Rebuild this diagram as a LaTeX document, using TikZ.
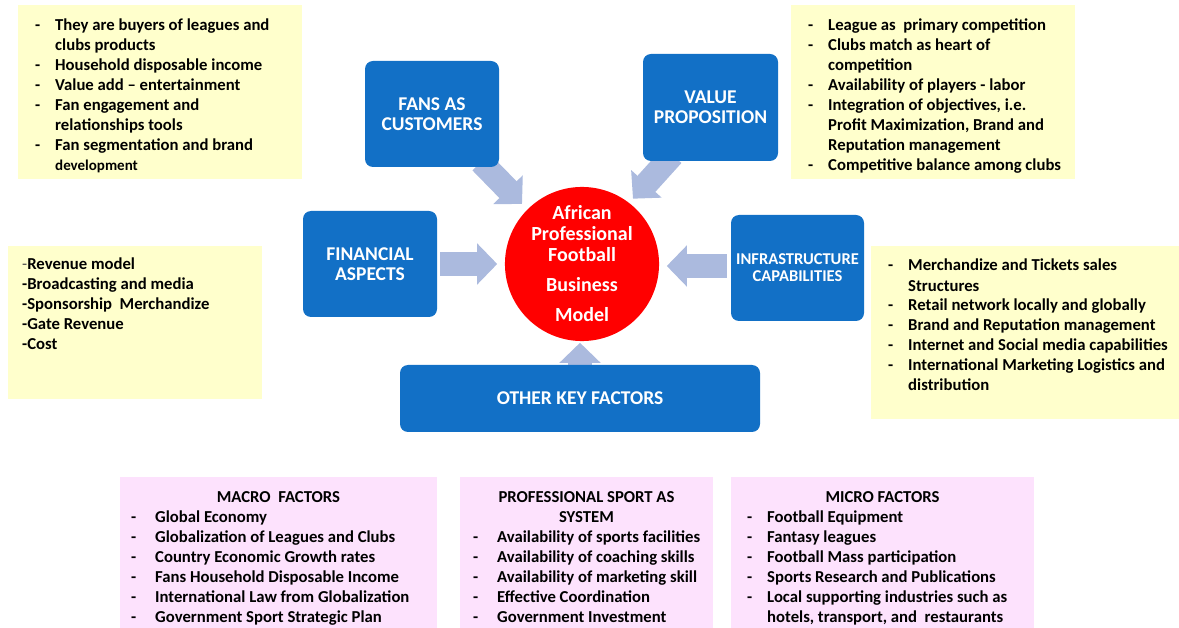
\documentclass[tikz,border=0pt]{standalone}
\usepackage{fontspec}
\setmainfont{Carlito}
\usepackage{xcolor}
\usepackage{tikz}
\usetikzlibrary{arrows.meta,backgrounds}
\definecolor{boxblue}{RGB}{18,112,198}
\definecolor{hubred}{RGB}{255,0,0}
\definecolor{flowblue}{RGB}{171,186,222}
\definecolor{notebg}{RGB}{255,255,204}
\definecolor{factorbg}{RGB}{253,226,253}
\newlength{\dashgap}
\setlength{\dashgap}{20pt}
\newcommand{\dashitem}[1]{\makebox[\dashgap][l]{-}#1}
\newcommand{\dashcont}[1]{\hspace*{\dashgap}#1}
\tikzset{
	note/.style={anchor=north west,inner sep=0pt,fill=notebg},
	factor/.style={anchor=north west,inner sep=0pt,fill=factorbg},
	list/.style={anchor=base west,inner sep=0pt,align=left,font=\fontsize{16.7}{20}\selectfont\bfseries},
	widelist/.style={list,font=\fontsize{16.7}{20}\selectfont\bfseries\setlength{\dashgap}{24pt}},
	topic/.style={rounded corners=8pt,fill=boxblue,text=white,align=center,inner sep=0pt,font=\fontsize{19.5}{20}\selectfont\bfseries},
	flow/.style={draw=flowblue,line width=24pt,-{Triangle[length=20pt,width=40pt]}}
}

\begin{document}
\begin{tikzpicture}[x=1pt,y=-1pt]
		\useasboundingbox (0,0) rectangle (1179,628);
		%
		\node[note,minimum width=284pt,minimum height=174pt] (fansnote) at (18,5) {};
		\node[note,minimum width=284pt,minimum height=174pt] (valuenote) at (791,5) {};
		\node[note,minimum width=254pt,minimum height=153pt] (finnote) at (8,246) {};
		\node[note,minimum width=308pt,minimum height=173pt] (infranote) at (871,246) {};
		\node[factor,minimum width=317pt,minimum height=151pt] (macro) at (120,477) {};
		\node[factor,minimum width=253pt,minimum height=151pt] (system) at (460,477) {};
		\node[factor,minimum width=303pt,minimum height=151pt] (micro) at (731,477) {};
		%
		\node[topic,minimum width=134pt,minimum height=106pt] (fans) at (432,114) {FANS AS\\CUSTOMERS};
		\node[topic,minimum width=135pt,minimum height=107pt] (value) at (710.5,107.5) {VALUE\\PROPOSITION};
		\node[topic,minimum width=134pt,minimum height=106pt] (fin) at (370,264) {FINANCIAL\\ASPECTS};
		\node[topic,minimum width=133pt,minimum height=106pt,font=\fontsize{16.5}{17}\selectfont\bfseries] (infra) at (797.5,268) {INFRASTRUCTURE\\CAPABILITIES};
		\node[topic,minimum width=360pt,minimum height=67pt] (other) at (580,398.5) {OTHER KEY FACTORS};
		\node[circle,fill=hubred,minimum size=150pt,inner sep=0pt,text=white,align=center,font=\fontsize{20}{21}\selectfont\bfseries] (hub) at (582,264) {African\\Professional\\Football\\[9pt]Business\\[9pt]Model};
		%
		\begin{pgfonlayer}{background}
		\draw[flow] ([xshift=3pt]fin.east) -- ++(57,0);
		\draw[flow] ([xshift=-4pt,yshift=2pt]infra.west) -- ++(-60,0);
		\draw[flow] ([shift={(49,48)}]fans.center) -- ++(41,42);
		\draw[flow] ([shift={(-38,47.5)}]value.center) -- ++(-39.5,43.7);
		\draw[flow] ([shift={(0,15)}]other.north) -- ++(0,-37);
		\end{pgfonlayer}
		%
		% lists sit on the baseline of their last line
		\node[list] (fanslist) at (35,171) {\dashitem{They are buyers of leagues and}\\
			\dashcont{clubs products}\\
			\dashitem{Household disposable income}\\
			\dashitem{Value add -- entertainment}\\
			\dashitem{Fan engagement and}\\
			\dashcont{relationships tools}\\
			\dashitem{Fan segmentation and brand}\\
			\dashcont{\fontsize{15}{20}\selectfont development}};
		\node[list] (valuelist) at (808,171) {\dashitem{League as\ \ primary competition}\\
			\dashitem{Clubs match as heart of}\\
			\dashcont{competition}\\
			\dashitem{Availability of players - labor}\\
			\dashitem{Integration of objectives, i.e.}\\
			\dashcont{Profit Maximization, Brand and}\\
			\dashcont{Reputation management}\\
			\dashitem{Competitive balance among clubs}};
		\node[list] (finlist) at (22,350) {{\mdseries\color{black!70}-}Revenue model\\
			-Broadcasting and media\\
			-Sponsorship\ \ Merchandize\\
			-Gate Revenue\\
			-Cost};
		\node[list] (infralist) at (888,391) {\dashitem{Merchandize and Tickets sales}\\
			\dashcont{Structures}\\
			\dashitem{Retail network locally and globally}\\
			\dashitem{Brand and Reputation management}\\
			\dashitem{Internet and Social media capabilities}\\
			\dashitem{International Marketing Logistics and}\\
			\dashcont{distribution}};
		%
		\node[list,anchor=base,align=center] (macrohead) at (278.5,502) {MACRO\ \ FACTORS};
		\node[widelist] (macrolist) at (131,622) {\dashitem{Global Economy}\\
			\dashitem{Globalization of Leagues and Clubs}\\
			\dashitem{Country Economic Growth rates}\\
			\dashitem{Fans Household Disposable Income}\\
			\dashitem{International Law from Globalization}\\
			\dashitem{Government Sport Strategic Plan}};
		\node[list,anchor=base,align=center] (systemhead) at (586.5,522) {PROFESSIONAL SPORT AS\\SYSTEM};
		\node[widelist] (systemlist) at (473,622) {\dashitem{Availability of sports facilities}\\
			\dashitem{Availability of coaching skills}\\
			\dashitem{Availability of marketing skill}\\
			\dashitem{Effective Coordination}\\
			\dashitem{Government Investment}};
		\node[list,anchor=base,align=center] (microhead) at (882.5,502) {MICRO FACTORS};
		\node[list] (microlist) at (747,622) {\dashitem{Football Equipment}\\
			\dashitem{Fantasy leagues}\\
			\dashitem{Football Mass participation}\\
			\dashitem{Sports Research and Publications}\\
			\dashitem{Local supporting industries such as}\\
			\dashcont{hotels, transport, and\ \ restaurants}};
\end{tikzpicture}
\end{document}
